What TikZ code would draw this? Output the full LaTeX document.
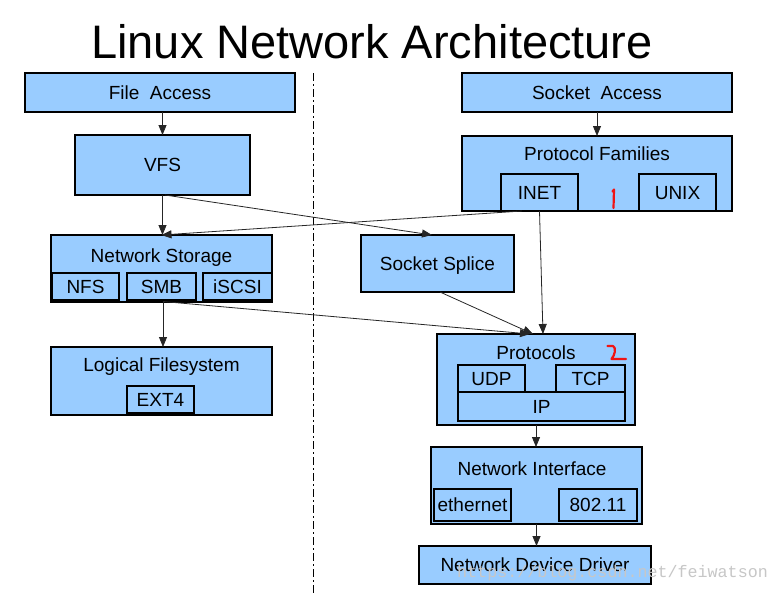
\documentclass[tikz,border=0pt]{standalone}
\usepackage{fontspec}
\setmainfont{Liberation Sans}
\newfontfamily\wmfont{Liberation Mono}
\usetikzlibrary{arrows.meta,calc}
\definecolor{boxblue}{RGB}{153,204,255}
\definecolor{marker}{RGB}{240,20,20}
\begin{document}
\begin{tikzpicture}[x=1pt,y=-1pt,
  box/.style={draw=black, line width=1.1pt, fill=boxblue, inner sep=0pt, outer sep=0pt},
  lbl/.style={font=\fontsize{19}{22}\selectfont, text height=13.6pt, text depth=0pt, inner sep=0pt},
  arr/.style={draw=black!85, line width=0.8pt, -{Triangle[length=10pt,width=8pt]}},
  sep/.style={draw=black, line width=1pt, dash pattern=on 8pt off 3pt on 2pt off 3pt},
  redmark/.style={draw=marker, line width=2.2pt, line cap=round, line join=round}
  ]
\useasboundingbox[fill=white] (0,0) rectangle (779,595);

% title
\node[font=\fontsize{47}{52}\selectfont, anchor=base, inner sep=0pt] (title) at (372,58) {Linux Network Architecture};

% separator
\coordinate (dtop) at (313,73);
\coordinate (dbot) at (313,595);
\draw[sep] (dtop) -- (dbot);

% left column
\node[box, lbl, minimum width=270pt, minimum height=39pt] (fa) at (160,92.5) {File\ \ Access};
\node[box, lbl, minimum width=175pt, minimum height=60pt] (vfs) at (162.5,165) {VFS};
\node[box, minimum width=221pt, minimum height=67pt] (ns) at (161.5,268.5) {};
\node[lbl, anchor=base] (nstitle) at (161.5,262) {Network Storage};
\node[box, lbl, minimum width=67pt, minimum height=27pt] (nfs) at (85.5,286.5) {NFS};
\node[box, lbl, minimum width=69pt, minimum height=27pt] (smb) at (161.5,286.5) {SMB};
\node[box, lbl, minimum width=69pt, minimum height=27pt] (iscsi) at (237.5,286.5) {iSCSI};
\node[box, minimum width=221pt, minimum height=68pt] (lfs) at (161.5,381) {};
\node[lbl, anchor=base] (lfstitle) at (161.5,371) {Logical Filesystem};
\node[box, lbl, minimum width=67pt, minimum height=27pt] (ext4) at (160.5,399.5) {EXT4};

% right column
\node[box, lbl, minimum width=270pt, minimum height=39pt] (sa) at (597,92.5) {Socket\ \ Access};
\node[box, minimum width=270pt, minimum height=75pt] (pf) at (597,173.5) {};
\node[lbl, anchor=base] (pftitle) at (597,160) {Protocol Families};
\node[box, lbl, minimum width=77pt, minimum height=37pt] (inet) at (539.5,192.5) {INET};
\node[box, lbl, minimum width=77pt, minimum height=37pt] (unix) at (677.5,192.5) {UNIX};
\node[box, lbl, minimum width=153pt, minimum height=57pt] (ss) at (437.5,263.5) {Socket Splice};
\node[box, minimum width=198pt, minimum height=91pt] (prot) at (536,379.5) {};
\node[lbl, anchor=base] (prottitle) at (536,359) {Protocols};
\node[box, lbl, minimum width=67pt, minimum height=27pt] (udp) at (491.5,378.5) {UDP};
\node[box, lbl, minimum width=69pt, minimum height=27pt] (tcp) at (590.5,378.5) {TCP};
\node[box, lbl, minimum width=167pt, minimum height=29pt] (ip) at (541.5,406.5) {IP};
\node[box, minimum width=211pt, minimum height=77pt] (ni) at (536.5,485.5) {};
\node[lbl, anchor=base] (nititle) at (532,475) {Network Interface};
\node[box, lbl, minimum width=77pt, minimum height=32pt] (eth) at (472.5,505) {ethernet};
\node[box, lbl, minimum width=78pt, minimum height=32pt] (wifi) at (598,505) {802.11};
\node[box, lbl, minimum width=232pt, minimum height=38pt] (ndd) at (535,565) {Network Device Driver};

% watermark
\node[font=\wmfont\fontsize{16.7}{18}\selectfont, text=black!22, anchor=base west, inner sep=0pt] (wm) at (457,577) {https://blog.csdn.net/feiwatson};

% red hand marks
\draw[redmark] (612.5,191.5) -- (614,189.5) -- (613.5,208);
\draw[redmark] (607.5,346) -- (613,346) .. controls (616.5,347.5) and (615,355) .. (611.5,359) -- (626,359);

% connectors
\draw[arr] (vfs.north |- fa.south) -- (vfs.north);
\draw[arr] (sa) -- (pf);
\draw[arr] (vfs.south) -- (vfs.south |- ns.north);
\draw[arr] ($(vfs.south)+(2.5,0)$) -- ($(ss.north)+(-5.5,0)$);
\draw[arr] ($(inet.south)+(-17.5,0)$) -- (ns.north);
\draw[arr] (inet.south) -- ($(prot.north)+(7,0)$);
\draw[arr] ($(ss.south)+(2.5,0)$) -- ($(prot.north)+(-3,0)$);
\draw[arr] ($(smb.south)+(1.5,1.5)$) -- ($(prot.north)+(-6,0)$);
\draw[arr] ($(smb.south)+(1.5,1.5)$) -- ($(smb.south |- lfs.north)+(1.5,0)$);
\draw[arr] (prot.south) -- (prot.south |- ni.north);
\draw[arr] (ni.south) -- (ni.south |- ndd.north);
\end{tikzpicture}
\end{document}
